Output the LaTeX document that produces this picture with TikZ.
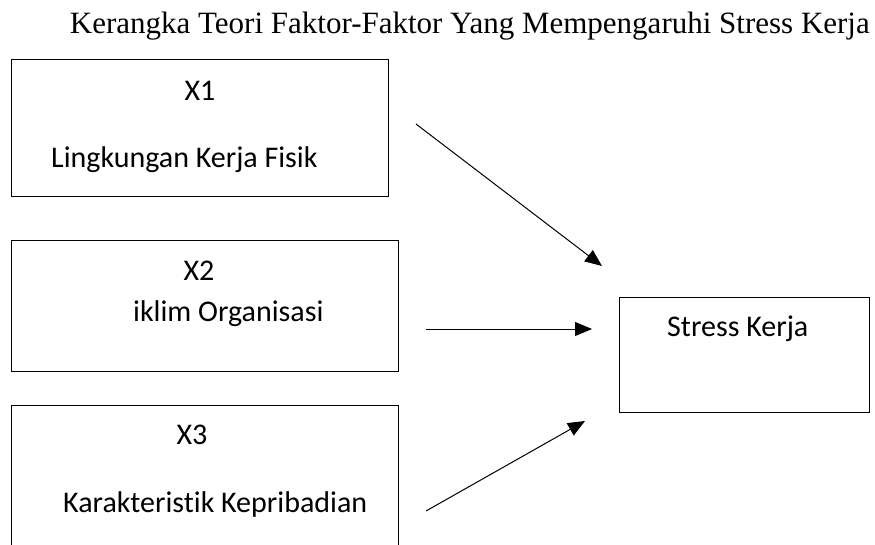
\documentclass[tikz,border=0pt]{standalone}
\usepackage{fontspec}
\setmainfont{Liberation Serif}
\newfontfamily\calfont[Ligatures=NoCommon]{Carlito}
\usetikzlibrary{arrows.meta}
\begin{document}
\begin{tikzpicture}[x=1pt,y=1pt,
  box/.style={draw, line width=1pt, inner sep=0pt, outer sep=0pt},
  lbl/.style={font=\calfont\fontsize{30}{34}\selectfont, inner sep=0pt, anchor=base},
  lblw/.style={font=\calfont\fontsize{30}{34}\selectfont, inner sep=0pt, anchor=base west},
  conn/.style={line width=1pt, -{Triangle[length=17pt,width=14pt]}}]
\useasboundingbox (0,0) rectangle (875,-545);
\clip (0,0) rectangle (875,-545);
\node[font=\fontsize{31}{36}\selectfont, inner sep=0pt, anchor=base east] (title) at (870,-34) {Kerangka Teori Faktor-Faktor Yang Mempengaruhi Stress Kerja};
\node[box, minimum width=377pt, minimum height=137pt] (b1) at (199.5,-128.5) {};
\node[box, minimum width=387pt, minimum height=130pt] (b2) at (204.5,-306) {};
\node[box, minimum width=387pt, minimum height=155pt] (b3) at (204.5,-482.5) {};
\node[box, minimum width=250pt, minimum height=115pt] (y) at (744,-354.5) {};
\node[lbl] (t1) at (200,-101) {X1};
\node[lblw] (t1b) at (51,-168) {Lingkungan Kerja Fisik};
\node[lbl] (t2) at (199,-280) {X2};
\node[lblw] (t2b) at (133,-321) {iklim Organisasi};
\node[lbl] (t3) at (192,-444) {X3};
\node[lblw] (t3b) at (63,-512) {Karakteristik Kepribadian};
\node[lblw] (ty) at (667,-336) {Stress Kerja};
\coordinate (s1) at (416,-124);
\coordinate (e1) at (602,-266);
\coordinate (s2) at (426,-329);
\coordinate (e2) at (592,-329);
\coordinate (s3) at (426,-511);
\coordinate (e3) at (585,-421);
\draw[conn] (s1) -- (e1);
\draw[conn] (s2) -- (e2);
\draw[conn] (s3) -- (e3);
\end{tikzpicture}
\end{document}
